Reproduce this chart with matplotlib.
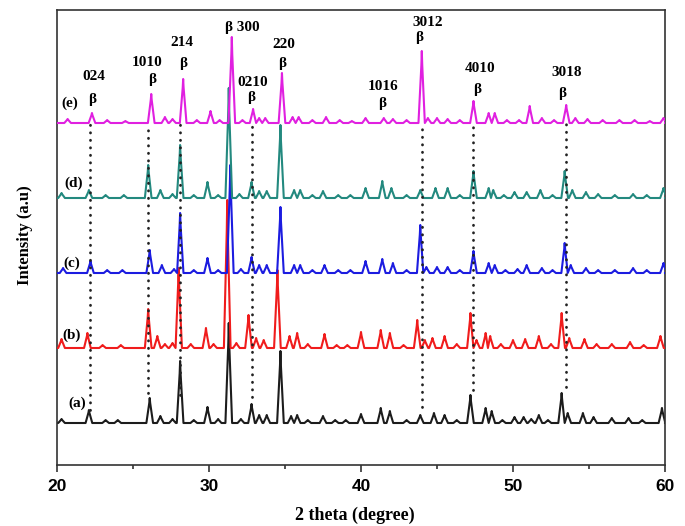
import matplotlib
matplotlib.use("Agg")
import matplotlib.pyplot as plt
from matplotlib.ticker import MultipleLocator

# peak positions (2 theta) and heights, one list pair per sample
pos_a = [20.3, 22.1, 23.2, 24.0, 26.1, 26.8, 27.6, 28.1, 29.0, 29.9, 30.6, 31.3, 32.1, 32.8, 33.3, 33.8,
         34.7, 35.4, 35.8, 36.5, 37.5, 38.3, 39.0, 40.0, 41.3, 41.9, 43.0, 43.9, 44.8, 45.5, 46.3, 47.2,
         48.2, 48.6, 49.3, 50.1, 50.7, 51.2, 51.7, 52.3, 53.2, 53.6, 54.6, 55.3, 56.5, 57.6, 58.5, 59.8]
int_a = [4, 13, 3, 3, 25, 7, 4, 62, 3, 16, 4, 100, 4, 19, 8, 8,
         72, 7, 8, 3, 7, 3, 3, 9, 15, 12, 3, 8, 10, 8, 3, 28,
         15, 12, 3, 6, 6, 4, 8, 3, 30, 10, 10, 6, 5, 5, 3, 15]

pos_b = [20.3, 22.0, 23.0, 24.2, 26.0, 26.6, 27.1, 27.6, 28.0, 28.8, 29.8, 30.3, 31.2, 31.8, 32.6, 33.1,
         33.6, 34.5, 35.3, 35.8, 36.5, 37.6, 38.4, 39.1, 40.0, 41.3, 41.9, 42.8, 43.7, 44.2, 44.7, 45.5,
         46.3, 47.2, 47.6, 48.2, 48.5, 49.2, 50.0, 50.8, 51.7, 52.5, 53.2, 53.7, 54.7, 55.5, 56.5, 57.7,
         58.6, 59.7]
int_b = [9, 15, 3, 3, 39, 12, 4, 5, 80, 4, 20, 4, 148, 5, 33, 10,
         8, 78, 12, 15, 4, 14, 3, 3, 16, 18, 15, 3, 28, 8, 10, 12,
         4, 35, 8, 15, 12, 4, 8, 9, 12, 4, 35, 10, 9, 4, 4, 6,
         3, 12]

pos_c = [20.4, 22.2, 23.3, 24.3, 26.1, 26.9, 27.7, 28.1, 29.0, 29.9, 30.6, 31.4, 32.1, 32.8, 33.3, 33.8,
         34.7, 35.6, 36.0, 36.8, 37.6, 38.5, 39.3, 40.3, 41.4, 42.1, 43.0, 43.9, 44.3, 45.0, 45.7, 46.5,
         47.4, 48.4, 48.8, 49.5, 50.3, 50.9, 51.9, 52.6, 53.4, 53.8, 54.8, 55.6, 56.7, 57.9, 58.8, 59.9]
int_c = [5, 12, 3, 3, 23, 8, 4, 60, 3, 15, 3, 108, 4, 16, 8, 8,
         66, 8, 8, 3, 8, 3, 3, 12, 14, 10, 3, 48, 6, 6, 6, 3,
         22, 10, 8, 3, 4, 8, 5, 3, 30, 8, 5, 3, 3, 5, 3, 10]

pos_d = [20.3, 22.1, 23.2, 24.4, 26.0, 26.8, 27.6, 28.1, 29.0, 29.9, 30.6, 31.3, 32.0, 32.8, 33.3, 33.8,
         34.7, 35.6, 36.0, 36.8, 37.5, 38.5, 39.3, 40.3, 41.4, 42.0, 43.0, 43.9, 44.9, 45.7, 46.5, 47.4,
         48.4, 48.7, 49.4, 50.1, 50.9, 51.8, 52.6, 53.4, 53.9, 54.8, 55.6, 56.7, 57.9, 58.8, 59.9]
int_d = [5, 8, 3, 3, 33, 8, 4, 53, 3, 16, 3, 110, 4, 16, 7, 7,
         73, 8, 8, 3, 7, 3, 3, 10, 17, 10, 3, 8, 10, 10, 3, 27,
         10, 8, 3, 6, 6, 8, 3, 27, 8, 6, 4, 3, 4, 3, 10]

pos_e = [20.7, 22.3, 23.3, 24.5, 26.2, 27.1, 27.6, 28.3, 29.2, 30.1, 30.7, 31.5, 32.2, 32.9, 33.3, 33.7,
         34.8, 35.5, 35.9, 36.8, 37.7, 38.6, 39.4, 40.3, 41.5, 42.1, 43.0, 44.0, 44.4, 45.0, 45.7, 46.5,
         47.4, 48.4, 48.8, 49.6, 50.4, 51.1, 51.9, 52.7, 53.5, 54.1, 54.9, 55.9, 57.0, 58.0, 59.0, 59.9]
int_e = [4, 10, 3, 2, 29, 6, 4, 44, 3, 12, 3, 86, 3, 14, 5, 5,
         50, 6, 6, 3, 6, 3, 2, 5, 5, 4, 3, 72, 5, 5, 4, 3,
         22, 10, 10, 3, 3, 17, 5, 3, 18, 5, 4, 3, 3, 3, 2, 5]

samples = ["(a)", "(b)", "(c)", "(d)", "(e)"]
colors = ["#1c1c1c", "#f01c1c", "#1c1ce0", "#23897f", "#e020e0"]

# beta phase reflections (hkl text, peak position, end of dotted guide)
hkl = ["024", "1010", "214", "300", "0210", "220", "1016", "3012", "4010", "3018"]
guide_pos = [22.2, 26.0, 28.1, 32.8, 44.0, 47.4, 53.5]
guide_low = [55, 72, 70, 68, 58, 75, 78]


def profile(pos, hgt, hw=0.22):
    pk = sorted(zip(pos, hgt))
    xs, ys = [20.0], [0.0]
    for k, (p, h) in enumerate(pk):
        lo = p - hw
        hi = p + hw
        if k > 0:
            lo = max(lo, (p + pk[k - 1][0]) / 2)
        if k < len(pk) - 1:
            hi = min(hi, (p + pk[k + 1][0]) / 2)
        xs += [lo, p - 0.03, p, p + 0.03, hi]
        ys += [0.0, h * 0.8, h, h * 0.8, 0.0]
    xs.append(60.0)
    ys.append(0.0)
    return xs, ys


plt.rcParams['font.family'] = ['Liberation Serif', 'DejaVu Serif']
fig = plt.figure(figsize=(6.85, 5.26), dpi=100)
ax = fig.add_axes([57 / 685, 61 / 526, 608 / 685, 455 / 526])

step = 75
base = 42
data = [(pos_a, int_a), (pos_b, int_b), (pos_c, int_c), (pos_d, int_d), (pos_e, int_e)]
for i, (p, h) in enumerate(data):
    x, y = profile(p, h)
    off = base + i * step
    ax.plot(x, [v + off for v in y], color=colors[i], lw=1.5, zorder=2 + i,
            solid_joinstyle="round")

top_guide = base + 4 * step
for gx, lo in zip(guide_pos, guide_low):
    ax.plot([gx, gx], [lo, top_guide], color="#222222", lw=2.0,
            linestyle=(0, (0.1, 2.6)), dash_capstyle="round", zorder=10)

# curve labels
lab_xy = [(21.32, 62), (20.99, 130), (20.99, 202), (21.12, 282), (20.86, 362)]
for s, (lx, ly) in zip(samples, lab_xy):
    ax.text(lx, ly, s, fontsize=11, fontweight="bold", ha="center", va="center", zorder=12)

# hkl labels with beta symbols
num_xy = [(22.43, 388), (25.92, 403), (28.22, 422), None, (32.9, 383), (34.93, 420),
          (41.45, 378), (44.41, 442), (47.83, 397), (53.55, 392)]
beta_xy = [(22.3, 365), (26.25, 385), (28.29, 402), None, (32.76, 368), (34.8, 402),
           (41.38, 362), (43.82, 428), (47.63, 375), (53.22, 372)]
for t, nxy, bxy in zip(hkl, num_xy, beta_xy):
    if nxy is None:
        ax.text(31.05, 438, "β " + t, fontsize=11, fontweight="bold", ha="left", va="center", zorder=12)
        continue
    ax.text(nxy[0], nxy[1], t, fontsize=11, fontweight="bold", ha="center", va="center", zorder=12)
    ax.text(bxy[0], bxy[1], "β", fontsize=11, fontweight="bold", ha="center", va="center", zorder=12)

ax.set_xlim(20, 60)
ax.set_ylim(0, 455)
ax.xaxis.set_major_locator(MultipleLocator(10))
ax.xaxis.set_minor_locator(MultipleLocator(5))
ax.tick_params(axis="x", which="major", direction="out", length=5, width=1.2, pad=5,
               labelsize=12.5, colors="#333333", labelcolor="black")
ax.tick_params(axis="x", which="minor", direction="out", length=3, width=1.2, colors="#333333")
ax.set_yticks([])
for lbl in ax.get_xticklabels():
    lbl.set_fontfamily("Liberation Sans")
    lbl.set_fontweight("bold")
for sp in ax.spines.values():
    sp.set_linewidth(1.2)
    sp.set_color("#333333")

ax.set_xlabel("2 theta (degree)", fontsize=13, fontweight="bold")
ax.xaxis.set_label_coords(298 / 608, -42 / 455)
fig.text(25 / 685, 1 - 235 / 526, "Intensity (a.u)", rotation=90, fontsize=12,
         fontweight="bold", ha="center", va="center")

fig.savefig("out.png", dpi=100)
